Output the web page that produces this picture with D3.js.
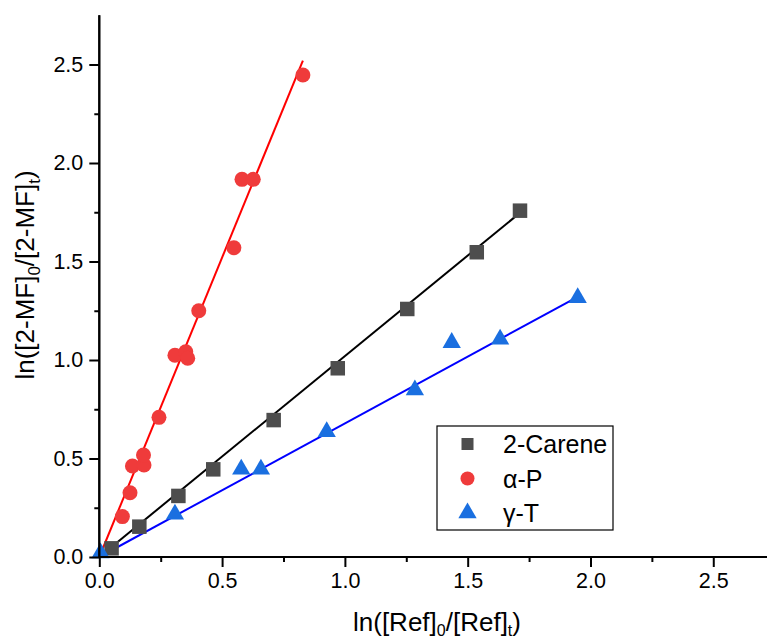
<!DOCTYPE html>
<html><head><meta charset="utf-8">
<script src="https://cdn.jsdelivr.net/npm/d3@7"></script>
<style>
body{margin:0;background:#fff;}
svg{display:block;font-family:"Liberation Sans",Arial,sans-serif;}
</style></head>
<body><svg id="c" width="767" height="644"></svg>
<script>
// Data
const careneX = [0.05, 0.163, 0.322, 0.464, 0.71, 0.971, 1.254, 1.537, 1.713];
const careneY = [0.044, 0.154, 0.31, 0.445, 0.695, 0.958, 1.259, 1.547, 1.758];
const alphaX = [0.094, 0.125, 0.135, 0.182, 0.18, 0.243, 0.308, 0.352, 0.36, 0.405, 0.548, 0.581, 0.627, 0.829];
const alphaY = [0.205, 0.326, 0.462, 0.467, 0.518, 0.709, 1.024, 1.042, 1.009, 1.25, 1.57, 1.917, 1.917, 2.447];
const gammaX = [0.005, 0.308, 0.578, 0.658, 0.926, 1.285, 1.435, 1.632, 1.948];
const gammaY = [0.02, 0.217, 0.445, 0.445, 0.636, 0.848, 1.088, 1.105, 1.316];
// fit lines through origin: [slope, xEnd]
const careneFit = [1.02, 1.715];
const alphaFit = [3.04, 0.829];
const gammaFit = [0.678, 1.948];
const majorTicks = [0, 0.5, 1.0, 1.5, 2.0, 2.5];
const minorTicks = [0.25, 0.75, 1.25, 1.75, 2.25, 2.75];
const legendLabels = ["2-Carene", "\u03B1-P", "\u03B3-T"];

const svg = d3.select("#c");
const x = d3.scaleLinear().domain([0, 2.72]).range([99.3, 767.3]);
const y = d3.scaleLinear().domain([0, 2.75]).range([557, 15.25]);

const colors = {sq:"#4d4d4d", ci:"#ef3b3b", tr:"#1a6fe0"};

// fit lines
const fits = [[careneFit,"#000"],[alphaFit,"#ff0000"],[gammaFit,"#0000ff"]];
fits.forEach(([f,c])=>{
  svg.append("line").attr("x1",x(0)).attr("y1",y(0)).attr("x2",x(f[1])).attr("y2",y(f[0]*f[1]))
    .attr("stroke",c).attr("stroke-width",2);
});

// markers
const sq = 14.5;
svg.append("g").selectAll("rect").data(d3.zip(careneX,careneY)).join("rect")
  .attr("x",d=>x(d[0])-sq/2).attr("y",d=>y(d[1])-sq/2).attr("width",sq).attr("height",sq)
  .attr("fill",colors.sq);
svg.append("g").selectAll("circle").data(d3.zip(alphaX,alphaY)).join("circle")
  .attr("cx",d=>x(d[0])).attr("cy",d=>y(d[1])).attr("r",7.5).attr("fill",colors.ci);
const tri = d3.symbol().type(d3.symbolTriangle).size(145);
svg.append("g").selectAll("path").data(d3.zip(gammaX,gammaY)).join("path")
  .attr("d",tri).attr("transform",d=>`translate(${x(d[0])},${y(d[1])})`).attr("fill",colors.tr);

// axes
const xAxis = svg.append("g").attr("transform",`translate(0,${y(0)})`);
xAxis.call(d3.axisBottom(x).tickValues(majorTicks).tickSize(10).tickPadding(6).tickFormat(d3.format(".1f")));
xAxis.append("g").call(d3.axisBottom(x).tickValues(minorTicks).tickSize(5).tickFormat(""));
const yAxis = svg.append("g").attr("transform",`translate(${x(0)},0)`);
yAxis.call(d3.axisLeft(y).tickValues(majorTicks).tickSize(10).tickPadding(6).tickFormat(d3.format(".1f")));
yAxis.append("g").call(d3.axisLeft(y).tickValues(minorTicks.slice(0,5)).tickSize(5).tickFormat(""));
svg.selectAll(".domain").attr("stroke","#000").attr("stroke-width",2);
svg.selectAll(".tick line").attr("stroke","#000").attr("stroke-width",2);
svg.selectAll(".tick text").attr("font-size",21.5).attr("fill","#000").attr("font-family","'Liberation Sans',Arial,sans-serif");
xAxis.selectAll(".domain").attr("d",`M${x(0)},0H767`);
yAxis.selectAll(".domain").attr("d",`M0,${y(0)}V${y(2.75)}`);

// axis titles
const xt = svg.append("text").attr("x",437).attr("y",631).attr("text-anchor","middle").attr("font-size",26);
xt.append("tspan").text("ln([Ref]");
xt.append("tspan").text("0").attr("font-size",16).attr("dy",5);
xt.append("tspan").text("/[Ref]").attr("dy",-5);
xt.append("tspan").text("t").attr("font-size",16).attr("dy",5);
xt.append("tspan").text(")").attr("dy",-5);

const yt = svg.append("text").attr("transform","translate(34,275) rotate(-90)").attr("text-anchor","middle").attr("font-size",26);
yt.append("tspan").text("ln([2-MF]");
yt.append("tspan").text("0").attr("font-size",17).attr("dy",6);
yt.append("tspan").text("/[2-MF]").attr("dy",-6);
yt.append("tspan").text("t").attr("font-size",17).attr("dy",6);
yt.append("tspan").text(")").attr("dy",-6);

// legend
const lg = svg.append("g");
lg.append("rect").attr("x",437).attr("y",426).attr("width",176).attr("height",104)
  .attr("fill","#fff").attr("stroke","#000").attr("stroke-width",1.2);
const rows = [444, 478.5, 513];
lg.append("rect").attr("x",467.5-6).attr("y",rows[0]-6).attr("width",12).attr("height",12).attr("fill",colors.sq);
lg.append("circle").attr("cx",467.5).attr("cy",rows[1]).attr("r",7).attr("fill",colors.ci);
lg.append("path").attr("d",tri).attr("transform",`translate(467.5,${rows[2]})`).attr("fill",colors.tr);
legendLabels.forEach((t,i)=>{
  lg.append("text").attr("x",503).attr("y",rows[i]+9).attr("font-size",25).text(t);
});
</script></body></html>
